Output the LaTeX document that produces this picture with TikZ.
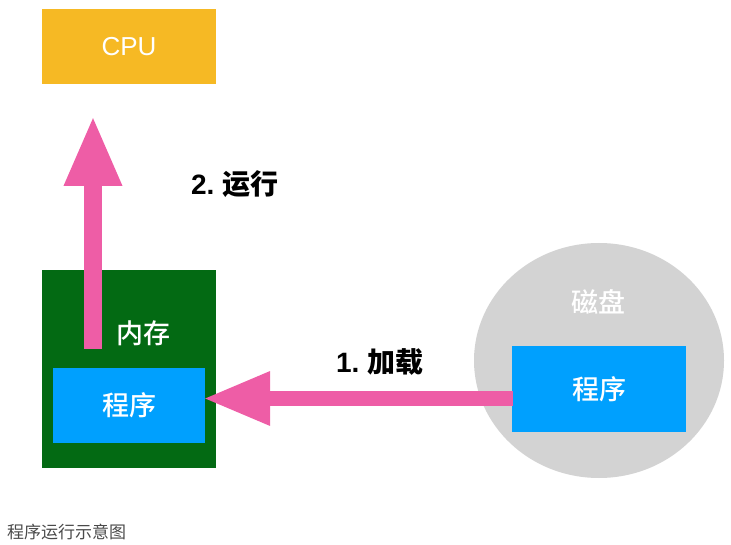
\documentclass[tikz,border=0pt]{standalone}
\usepackage{fontspec}
\setmainfont{Noto Sans CJK SC}
\newfontfamily\cjkmed{Noto Sans CJK SC Medium}
\newfontfamily\latinsans{Liberation Sans}
\usetikzlibrary{arrows.meta,shapes.geometric}
\definecolor{cpuyellow}{HTML}{F6B924}
\definecolor{memgreen}{HTML}{036A13}
\definecolor{progblue}{HTML}{00A0FE}
\definecolor{arrowpink}{HTML}{EE5DA6}
\definecolor{diskgray}{HTML}{D3D3D3}
\definecolor{captiongray}{HTML}{4A4A4A}
\tikzset{
  boxnode/.style={rectangle, inner sep=0pt, text=white, font=\cjkmed\fontsize{27}{32}\selectfont},
  whitelabel/.style={inner sep=0pt, text=white, font=\cjkmed\fontsize{27}{32}\selectfont},
  steplabel/.style={inner sep=0pt, text=black, font=\fontsize{28}{32}\selectfont\bfseries},
  bigarrow/.style={draw=arrowpink, line cap=butt},
}
\begin{document}
\begin{tikzpicture}[x=1pt,y=-1pt]
\useasboundingbox (0,0) rectangle (731,545);
% CPU
\node[boxnode, fill=cpuyellow, minimum width=174pt, minimum height=75pt,
      font=\latinsans\fontsize{26}{30}\selectfont] (cpu) at (129,46.5) {CPU};
% memory
\node[boxnode, fill=memgreen, minimum width=174pt, minimum height=198pt] (mem) at (129,369) {};
\node[whitelabel] (memlabel) at (143,333) {内存};
\node[boxnode, fill=progblue, minimum width=152pt, minimum height=75pt] (memprog) at (129,405.5) {程序};
% disk
\node[ellipse, fill=diskgray, inner sep=0pt, minimum width=250pt, minimum height=235pt] (disk) at (599,360.5) {};
\node[whitelabel] (disklabel) at (598,302) {磁盘};
\node[boxnode, fill=progblue, minimum width=174pt, minimum height=86pt] (diskprog) at (599,389) {程序};
% arrows
\coordinate (runstart) at (93,349);
\coordinate (runend) at (93,115);
\draw[bigarrow, line width=18pt, -{Triangle[length=71pt,width=53pt]}] (runstart) -- (runend);
\coordinate (loadstart) at (513,398.5);
\coordinate (loadend) at (203,398.5);
\draw[bigarrow, line width=15pt, -{Triangle[length=67pt,width=50pt]}] (loadstart) -- (loadend);
% step labels
\node[steplabel] (runlabel) at (235,184) {{\latinsans\bfseries 2.} 运行};
\node[steplabel] (loadlabel) at (380,362) {{\latinsans\bfseries 1.} 加载};
% caption
\node[anchor=west, inner sep=0pt, text=captiongray, font=\fontsize{17}{20}\selectfont] (caption) at (7,532) {程序运行示意图};
\end{tikzpicture}
\end{document}
